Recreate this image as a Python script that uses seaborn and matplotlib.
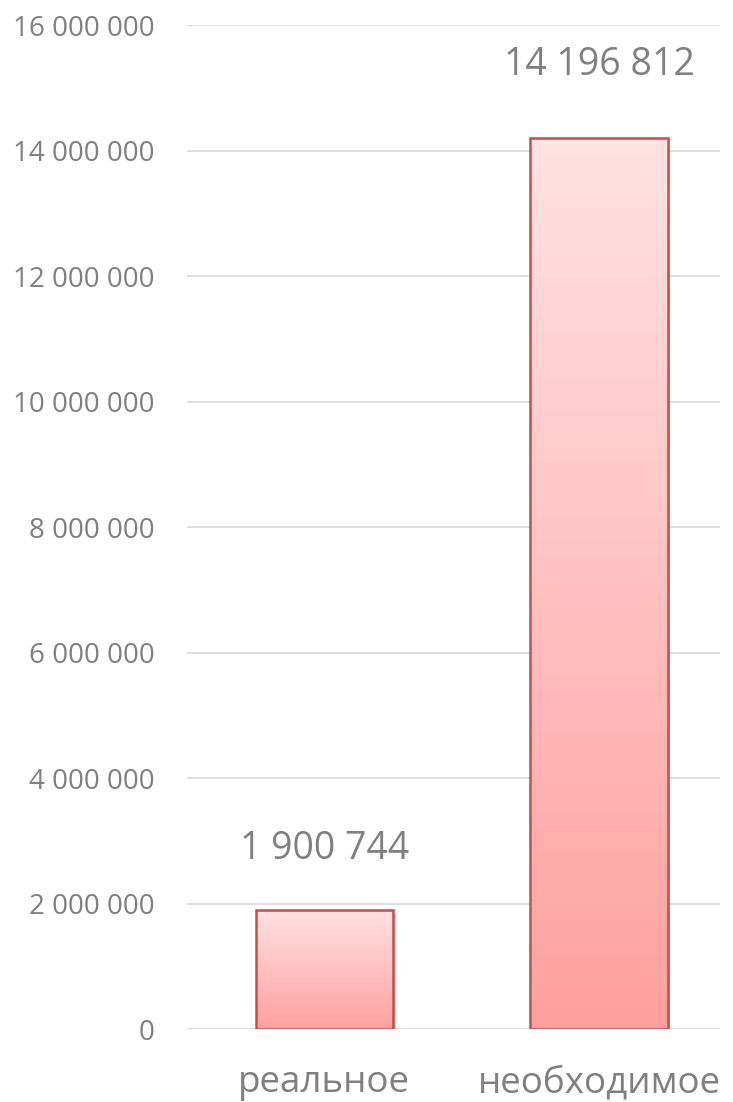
import numpy as np
import pandas as pd
import matplotlib
matplotlib.use("Agg")
import matplotlib.pyplot as plt
import matplotlib.patheffects as pe
from matplotlib.colors import LinearSegmentedColormap
from matplotlib.patches import Rectangle
import seaborn as sns

# -----------------------------
# Data
# -----------------------------
categories = ["реальное", "необходимое"]
values = [1900744, 14196812]
y_ticks = [0, 2000000, 4000000, 6000000, 8000000, 10000000, 12000000, 14000000, 16000000]

df = pd.DataFrame({"cat": categories, "val": values})

sns.set_style("white")
plt.rcParams["font.family"] = ["Open Sans", "DejaVu Sans"]

text_color = "#808080"
edge_color = "#C0504D"
grad_cmap = LinearSegmentedColormap.from_list("pinkgrad", ["#FFA0A0", "#FFE2E2"])


def spaced(v):
    return f"{v:,.0f}".replace(",", " ")


fig = plt.figure(figsize=(7.33, 11.02), dpi=100)
ax = fig.add_axes([0.255, 0.0662, 0.727, 0.9111])

sns.barplot(data=df, x="cat", y="val", order=categories, width=0.5,
            color="white", edgecolor="none", linewidth=0, ax=ax, zorder=2)

# -----------------------------
# Gradient fill + outline per bar
# -----------------------------
grad = np.linspace(0, 1, 256).reshape(-1, 1)
for bar in ax.patches:
    x0, y0 = bar.get_x(), bar.get_y()
    w, h = bar.get_width(), bar.get_height()
    bar.set_path_effects([pe.SimplePatchShadow(offset=(2, -2), shadow_rgbFace="#999999", alpha=0.45),
                          pe.Normal()])
    im = ax.imshow(grad, cmap=grad_cmap, origin="lower", aspect="auto",
                   extent=[x0, x0 + w, y0, y0 + h], zorder=3, interpolation="bilinear")
    im.set_clip_path(bar)
    ax.add_patch(Rectangle((x0, y0), w, h, fill=False, edgecolor=edge_color,
                           linewidth=1.8, zorder=4))

# value labels
label_offsets = [30, 39]
for i, v in enumerate(values):
    ax.annotate(spaced(v), xy=(i, v), xytext=(0, label_offsets[i]),
                textcoords="offset points", ha="center", va="bottom",
                fontsize=27, color=text_color)

ax.set_xlim(-0.5, 1.44)
ax.set_ylim(0, 16000000)
ax.set_yticks(y_ticks)
ax.set_yticklabels([spaced(t) for t in y_ticks])
ax.yaxis.grid(True, color="#D9D9D9", linewidth=1.2, zorder=0)
ax.set_axisbelow(True)

ax.tick_params(axis="y", length=0, pad=23, labelsize=20, labelcolor=text_color)
ax.tick_params(axis="x", length=0, pad=26, labelsize=26.5, labelcolor=text_color)
ax.set_xlabel("")
ax.set_ylabel("")
for s in ax.spines.values():
    s.set_visible(False)

fig.savefig("out.png", dpi=100)
plt.close(fig)
